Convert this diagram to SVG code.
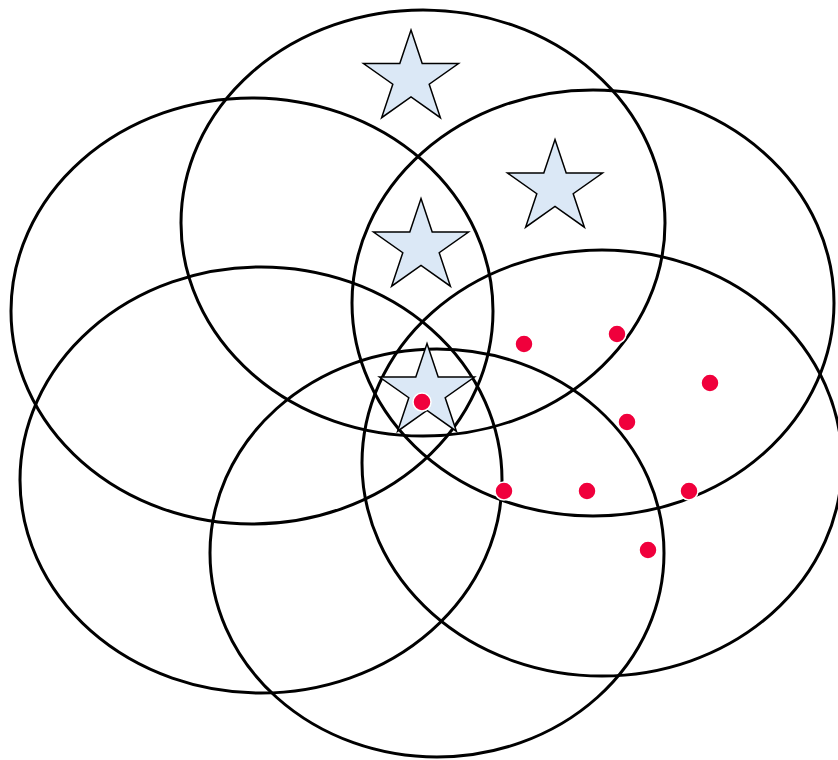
<svg xmlns="http://www.w3.org/2000/svg" width="838" height="760" viewBox="0 0 838 760">
<defs>
<style>
.c{fill:none;stroke:#000;stroke-width:3}
.s{fill:#dbe8f6;stroke:#000;stroke-width:1.5;stroke-linejoin:miter}
.d{fill:#f0003c;stroke:#fff;stroke-width:1.5}
</style>
<polygon id="star" points="0,-48.5 11.2,-15 47.5,-15 18.2,5.7 29.4,39.2 0,18.5 -29.4,39.2 -18.2,5.7 -47.5,-15 -11.2,-15"/>
</defs>
<g id="circles">
<ellipse id="c1" class="c" cx="423" cy="223" rx="242" ry="213"/>
<ellipse id="c2" class="c" cx="252" cy="311" rx="241" ry="213"/>
<ellipse id="c3" class="c" cx="593" cy="303" rx="241" ry="213"/>
<ellipse id="c4" class="c" cx="261" cy="480" rx="241" ry="213"/>
<ellipse id="c5" class="c" cx="602" cy="463" rx="240" ry="213"/>
<ellipse id="c6" class="c" cx="437" cy="553" rx="227" ry="204"/>
</g>
<g id="stars">
<use id="s1" href="#star" class="s" x="411" y="78.5"/>
<use id="s2" href="#star" class="s" x="555" y="188"/>
<use id="s3" href="#star" class="s" x="421" y="247"/>
<use id="s4" href="#star" class="s" x="427" y="392"/>
</g>
<g id="dots">
<circle class="d" cx="524" cy="344" r="9"/>
<circle class="d" cx="617" cy="334" r="9"/>
<circle class="d" cx="710" cy="383" r="9"/>
<circle class="d" cx="627" cy="422" r="9"/>
<circle class="d" cx="422" cy="402" r="9"/>
<circle class="d" cx="504" cy="491" r="9"/>
<circle class="d" cx="587" cy="491" r="9"/>
<circle class="d" cx="689" cy="491" r="9"/>
<circle class="d" cx="648" cy="550" r="9"/>
</g>
</svg>
